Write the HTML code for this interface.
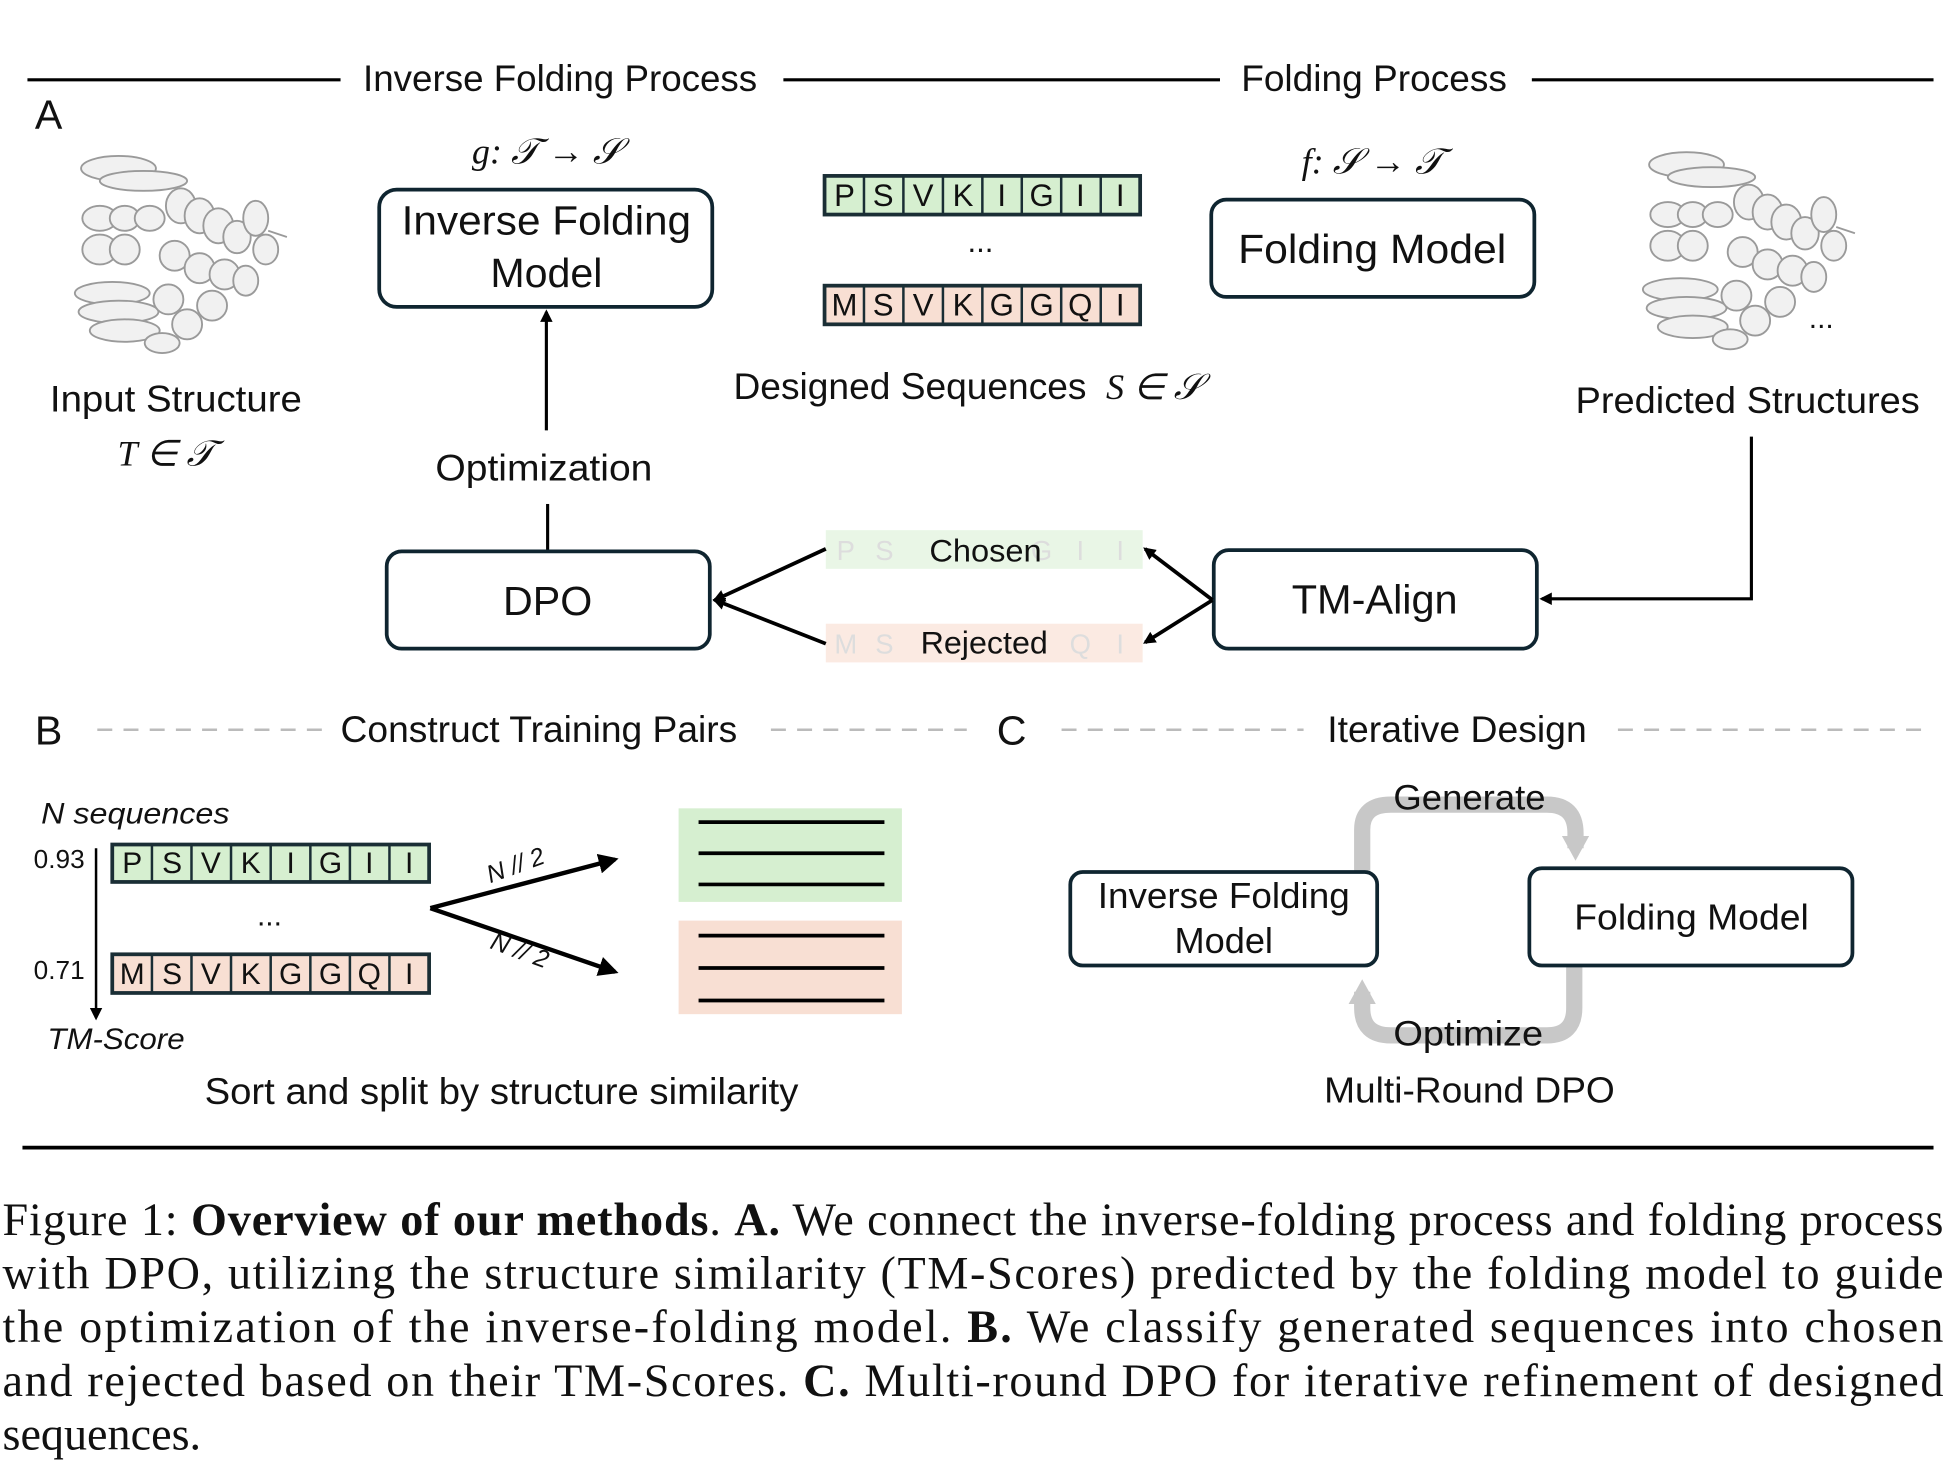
<!DOCTYPE html>
<html><head><meta charset="utf-8"><style>
html,body{margin:0;padding:0;background:#fff;}
svg{display:block;}
.s{font-family:"Liberation Sans",sans-serif;fill:#111;}
.m{font-family:"Liberation Serif",serif;font-style:italic;fill:#111;}
.c{font-family:"Liberation Serif",serif;fill:#111;font-size:37px;}
</style></head><body>
<svg width="1946" height="1467" viewBox="0 0 1560 1176" xmlns="http://www.w3.org/2000/svg">
<defs>
<marker id="ah" markerWidth="10" markerHeight="10" refX="8" refY="5" orient="auto" markerUnits="userSpaceOnUse"><path d="M0,0 L10,5 L0,10 z" fill="#000"/></marker>
<marker id="ab" markerWidth="16" markerHeight="16" refX="13" refY="8" orient="auto" markerUnits="userSpaceOnUse"><path d="M0,0 L16,8 L0,16 z" fill="#000"/></marker>
<marker id="ag" markerWidth="22" markerHeight="22" refX="10" refY="11" orient="auto" markerUnits="userSpaceOnUse"><path d="M0,0 L20,11 L0,22 z" fill="#c8c8c8"/></marker>
<g id="prot" fill="#f1f1f1" stroke="#9a9a9a" stroke-width="1.5">
<ellipse cx="-40" cy="-60" rx="30" ry="10"/><ellipse cx="-20" cy="-50" rx="35" ry="8"/>
<ellipse cx="-55" cy="-20" rx="14" ry="10"/><ellipse cx="-35" cy="-20" rx="12" ry="10"/><ellipse cx="-15" cy="-20" rx="12" ry="10"/>
<ellipse cx="-55" cy="5" rx="14" ry="12"/><ellipse cx="-35" cy="5" rx="12" ry="12"/>
<ellipse cx="10" cy="-30" rx="12" ry="14"/><ellipse cx="25" cy="-22" rx="12" ry="14"/><ellipse cx="40" cy="-14" rx="12" ry="14"/>
<ellipse cx="55" cy="-5" rx="11" ry="13"/><ellipse cx="70" cy="-20" rx="10" ry="14"/><ellipse cx="78" cy="5" rx="10" ry="12"/>
<ellipse cx="5" cy="10" rx="12" ry="12"/><ellipse cx="25" cy="20" rx="12" ry="12"/><ellipse cx="45" cy="25" rx="12" ry="12"/>
<ellipse cx="-45" cy="40" rx="30" ry="9"/><ellipse cx="-40" cy="55" rx="32" ry="9"/><ellipse cx="-35" cy="70" rx="28" ry="9"/>
<ellipse cx="0" cy="45" rx="12" ry="12"/><ellipse cx="15" cy="65" rx="12" ry="12"/><ellipse cx="35" cy="50" rx="12" ry="12"/>
<ellipse cx="-5" cy="80" rx="14" ry="8"/><ellipse cx="62" cy="30" rx="10" ry="12"/><path d="M80,-10 L95,-5" fill="none"/>
</g>
</defs>
<rect width="1560" height="1176" fill="#fff"/>
<g stroke="#000" stroke-width="2.5">
<line x1="22" y1="64" x2="273" y2="64"/><line x1="628" y1="64" x2="978" y2="64"/><line x1="1228" y1="64" x2="1550" y2="64"/>
</g>
<text class="s" x="291" y="73" font-size="29.5" textLength="316" lengthAdjust="spacingAndGlyphs">Inverse Folding Process</text>
<text class="s" x="995" y="73" font-size="29.5" textLength="213" lengthAdjust="spacingAndGlyphs">Folding Process</text>
<text class="s" x="28" y="103" font-size="33">A</text>
<use href="#prot" x="135" y="195"/>
<use href="#prot" x="1392" y="192"/>
<text class="s" x="1460" y="263" font-size="24" text-anchor="middle">...</text>
<text class="s" x="141" y="330" font-size="29.5" text-anchor="middle" textLength="202" lengthAdjust="spacingAndGlyphs">Input Structure</text>
<text class="m" x="133" y="373" font-size="29" text-anchor="middle">T ∈ 𝒯</text>
<text class="m" x="438" y="131" font-size="29" text-anchor="middle">g: 𝒯 → 𝒮</text>
<rect x="304" y="152" width="267" height="94" rx="14" fill="#fff" stroke="#0f2530" stroke-width="3"/>
<text class="s" x="438" y="188" font-size="33" text-anchor="middle" textLength="232" lengthAdjust="spacingAndGlyphs">Inverse Folding</text>
<text class="s" x="438" y="230" font-size="33" text-anchor="middle">Model</text>
<line x1="438" y1="345" x2="438" y2="250" stroke="#000" stroke-width="2.5" marker-end="url(#ah)"/>
<text class="s" x="436" y="385" font-size="29.5" text-anchor="middle" textLength="174" lengthAdjust="spacingAndGlyphs">Optimization</text>
<line x1="439" y1="404" x2="439" y2="441" stroke="#000" stroke-width="2.5"/>
<rect x="310" y="442" width="259" height="78" rx="12" fill="#fff" stroke="#0f2530" stroke-width="3"/>
<text class="s" x="439" y="493" font-size="33" text-anchor="middle">DPO</text>
<g font-family="Liberation Sans,sans-serif" font-size="25" text-anchor="middle" fill="#111">
<rect x="661" y="141" width="253" height="31" fill="#d6efd0" stroke="#1a2e35" stroke-width="3"/>
<g stroke="#1a2e35" stroke-width="2"><line x1="692.6" y1="141" x2="692.6" y2="172"/><line x1="724.2" y1="141" x2="724.2" y2="172"/><line x1="755.9" y1="141" x2="755.9" y2="172"/><line x1="787.5" y1="141" x2="787.5" y2="172"/><line x1="819.1" y1="141" x2="819.1" y2="172"/><line x1="850.7" y1="141" x2="850.7" y2="172"/><line x1="882.4" y1="141" x2="882.4" y2="172"/></g>
<text x="677" y="165">P</text><text x="708" y="165">S</text><text x="740" y="165">V</text><text x="772" y="165">K</text><text x="803" y="165">I</text><text x="835" y="165">G</text><text x="866" y="165">I</text><text x="898" y="165">I</text>
<rect x="661" y="229" width="253" height="31" fill="#f8dfd3" stroke="#1a2e35" stroke-width="3"/>
<g stroke="#1a2e35" stroke-width="2"><line x1="692.6" y1="229" x2="692.6" y2="260"/><line x1="724.2" y1="229" x2="724.2" y2="260"/><line x1="755.9" y1="229" x2="755.9" y2="260"/><line x1="787.5" y1="229" x2="787.5" y2="260"/><line x1="819.1" y1="229" x2="819.1" y2="260"/><line x1="850.7" y1="229" x2="850.7" y2="260"/><line x1="882.4" y1="229" x2="882.4" y2="260"/></g>
<text x="677" y="253">M</text><text x="708" y="253">S</text><text x="740" y="253">V</text><text x="772" y="253">K</text><text x="803" y="253">G</text><text x="835" y="253">G</text><text x="866" y="253">Q</text><text x="898" y="253">I</text>
<text x="786" y="202">...</text>
</g>
<text class="s" x="588" y="320" font-size="29.5" textLength="283" lengthAdjust="spacingAndGlyphs">Designed Sequences</text>
<text class="m" x="925" y="320" font-size="29" text-anchor="middle">S ∈ 𝒮</text>
<text class="m" x="1100" y="139" font-size="29" text-anchor="middle">f: 𝒮 → 𝒯</text>
<rect x="971" y="160" width="259" height="78" rx="12" fill="#fff" stroke="#0f2530" stroke-width="3"/>
<text class="s" x="1100" y="211" font-size="33" text-anchor="middle" textLength="215" lengthAdjust="spacingAndGlyphs">Folding Model</text>
<text class="s" x="1401" y="331" font-size="29.5" text-anchor="middle" textLength="276" lengthAdjust="spacingAndGlyphs">Predicted Structures</text>
<rect x="973" y="441" width="259" height="79" rx="12" fill="#fff" stroke="#0f2530" stroke-width="3"/>
<text class="s" x="1102" y="492" font-size="33" text-anchor="middle" textLength="133" lengthAdjust="spacingAndGlyphs">TM-Align</text>
<polyline points="1404,350 1404,480 1236,480" fill="none" stroke="#000" stroke-width="2.5" marker-end="url(#ah)"/>
<rect x="662" y="425" width="254" height="31" fill="#e9f6e6"/>
<rect x="662" y="500" width="254" height="31" fill="#fbeae2"/>
<g font-family="Liberation Sans,sans-serif" font-size="22" fill="#ddd" text-anchor="middle">
<text x="678" y="449">P</text><text x="709" y="449">S</text><text x="835" y="449">G</text><text x="866" y="449">I</text><text x="898" y="449">I</text>
<text x="678" y="524">M</text><text x="709" y="524">S</text><text x="866" y="524">Q</text><text x="898" y="524">I</text>
</g>
<text class="s" x="790" y="450" font-size="25" text-anchor="middle" textLength="90" lengthAdjust="spacingAndGlyphs">Chosen</text>
<text class="s" x="789" y="524" font-size="25" text-anchor="middle" textLength="102" lengthAdjust="spacingAndGlyphs">Rejected</text>
<g stroke="#000" stroke-width="3" fill="none">
<line x1="972" y1="481" x2="918" y2="440" marker-end="url(#ah)"/>
<line x1="972" y1="481" x2="918" y2="515" marker-end="url(#ah)"/>
<line x1="662" y1="440" x2="573" y2="481" marker-end="url(#ah)"/>
<line x1="662" y1="516" x2="573" y2="481" marker-end="url(#ah)"/>
</g>
<text class="s" x="28" y="597" font-size="33">B</text>
<text class="s" x="799" y="597" font-size="33">C</text>
<g stroke="#bbb" stroke-width="2" stroke-dasharray="12,9">
<line x1="78" y1="585" x2="258" y2="585"/><line x1="618" y1="585" x2="775" y2="585"/>
<line x1="851" y1="585" x2="1045" y2="585"/><line x1="1297" y1="585" x2="1540" y2="585"/>
</g>
<text class="s" x="432" y="595" font-size="29.5" text-anchor="middle" textLength="318" lengthAdjust="spacingAndGlyphs">Construct Training Pairs</text>
<text class="s" x="1168" y="595" font-size="29.5" text-anchor="middle" textLength="208" lengthAdjust="spacingAndGlyphs">Iterative Design</text>
<text class="s" x="33" y="660" font-size="24" font-style="italic" textLength="151" lengthAdjust="spacingAndGlyphs">N sequences</text>
<text class="s" x="27" y="696" font-size="21">0.93</text>
<text class="s" x="27" y="785" font-size="21">0.71</text>
<line x1="77" y1="680" x2="77" y2="816" stroke="#000" stroke-width="2" marker-end="url(#ah)"/>
<text class="s" x="38" y="841" font-size="24" font-style="italic" textLength="110" lengthAdjust="spacingAndGlyphs">TM-Score</text>
<g font-family="Liberation Sans,sans-serif" font-size="24" text-anchor="middle" fill="#111">
<rect x="90" y="677" width="254" height="30" fill="#d6efd0" stroke="#1a2e35" stroke-width="3"/>
<g stroke="#1a2e35" stroke-width="2"><line x1="121.8" y1="677" x2="121.8" y2="707"/><line x1="153.5" y1="677" x2="153.5" y2="707"/><line x1="185.2" y1="677" x2="185.2" y2="707"/><line x1="217" y1="677" x2="217" y2="707"/><line x1="248.8" y1="677" x2="248.8" y2="707"/><line x1="280.5" y1="677" x2="280.5" y2="707"/><line x1="312.2" y1="677" x2="312.2" y2="707"/></g>
<text x="106" y="700">P</text><text x="138" y="700">S</text><text x="169" y="700">V</text><text x="201" y="700">K</text><text x="233" y="700">I</text><text x="265" y="700">G</text><text x="296" y="700">I</text><text x="328" y="700">I</text>
<rect x="90" y="765" width="254" height="31" fill="#f8dfd3" stroke="#1a2e35" stroke-width="3"/>
<g stroke="#1a2e35" stroke-width="2"><line x1="121.8" y1="765" x2="121.8" y2="796"/><line x1="153.5" y1="765" x2="153.5" y2="796"/><line x1="185.2" y1="765" x2="185.2" y2="796"/><line x1="217" y1="765" x2="217" y2="796"/><line x1="248.8" y1="765" x2="248.8" y2="796"/><line x1="280.5" y1="765" x2="280.5" y2="796"/><line x1="312.2" y1="765" x2="312.2" y2="796"/></g>
<text x="106" y="789">M</text><text x="138" y="789">S</text><text x="169" y="789">V</text><text x="201" y="789">K</text><text x="233" y="789">G</text><text x="265" y="789">G</text><text x="296" y="789">Q</text><text x="328" y="789">I</text>
<text x="216" y="742">...</text>
</g>
<g stroke="#000" stroke-width="3.5" fill="none">
<line x1="345" y1="728" x2="493" y2="689" marker-end="url(#ab)"/>
<line x1="345" y1="728" x2="493" y2="779" marker-end="url(#ab)"/>
</g>
<text class="s" x="0" y="0" font-size="20" font-style="italic" transform="translate(393,708) rotate(-20)">N // 2</text>
<text class="s" x="0" y="0" font-size="20" font-style="italic" transform="translate(392,760) rotate(20)">N // 2</text>
<rect x="544" y="648" width="179" height="75" fill="#d6efd0"/>
<rect x="544" y="738" width="179" height="75" fill="#f8dfd3"/>
<g stroke="#000" stroke-width="3">
<line x1="560" y1="659" x2="709" y2="659"/><line x1="560" y1="684" x2="709" y2="684"/><line x1="560" y1="709" x2="709" y2="709"/>
<line x1="560" y1="750" x2="709" y2="750"/><line x1="560" y1="776" x2="709" y2="776"/><line x1="560" y1="802" x2="709" y2="802"/>
</g>
<text class="s" x="402" y="885" font-size="29.5" text-anchor="middle" textLength="476" lengthAdjust="spacingAndGlyphs">Sort and split by structure similarity</text>
<g fill="none" stroke="#c8c8c8" stroke-width="13">
<path d="M1092,698 L1092,665 Q1092,645 1115,645 L1240,645 Q1263,645 1263,668 L1263,680" marker-end="url(#ag)"/>
<path d="M1262,775 L1262,808 Q1262,830 1240,830 L1115,830 Q1092,830 1092,808 L1092,795" marker-end="url(#ag)"/>
</g>
<rect x="858" y="699" width="246" height="75" rx="10" fill="#fff" stroke="#0f2530" stroke-width="3"/>
<text class="s" x="981" y="728" font-size="29" text-anchor="middle" textLength="202" lengthAdjust="spacingAndGlyphs">Inverse Folding</text>
<text class="s" x="981" y="764" font-size="29" text-anchor="middle">Model</text>
<rect x="1226" y="696" width="259" height="78" rx="10" fill="#fff" stroke="#0f2530" stroke-width="3"/>
<text class="s" x="1356" y="745" font-size="29" text-anchor="middle" textLength="188" lengthAdjust="spacingAndGlyphs">Folding Model</text>
<text class="s" x="1178" y="649" font-size="28" text-anchor="middle" textLength="122" lengthAdjust="spacingAndGlyphs">Generate</text>
<text class="s" x="1177" y="838" font-size="28" text-anchor="middle" textLength="120" lengthAdjust="spacingAndGlyphs">Optimize</text>
<text class="s" x="1178" y="884" font-size="29" text-anchor="middle" textLength="233" lengthAdjust="spacingAndGlyphs">Multi-Round DPO</text>
<line x1="18" y1="920" x2="1550" y2="920" stroke="#000" stroke-width="3"/>
<text class="c" x="2" y="990" textLength="1556" lengthAdjust="spacing">Figure 1: <tspan font-weight="bold">Overview of our methods</tspan>. <tspan font-weight="bold">A.</tspan> We connect the inverse-folding process and folding process</text>
<text class="c" x="2" y="1033" textLength="1556" lengthAdjust="spacing">with DPO, utilizing the structure similarity (TM-Scores) predicted by the folding model to guide</text>
<text class="c" x="2" y="1076" textLength="1556" lengthAdjust="spacing">the optimization of the inverse-folding model.  <tspan font-weight="bold">B.</tspan> We classify generated sequences into chosen</text>
<text class="c" x="2" y="1119" textLength="1556" lengthAdjust="spacing">and rejected based on their TM-Scores. <tspan font-weight="bold">C.</tspan> Multi-round DPO for iterative refinement of designed</text>
<text class="c" x="2" y="1162">sequences.</text>
</svg>
</body></html>
